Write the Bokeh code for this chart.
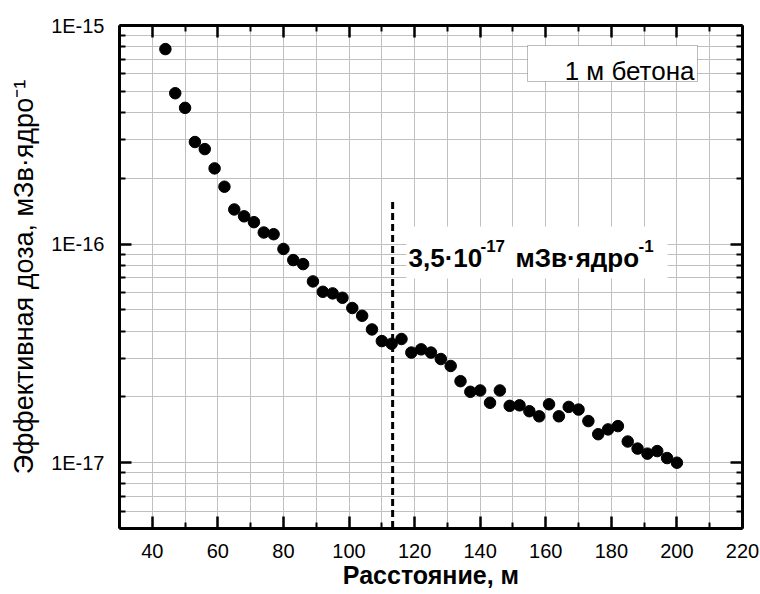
from bokeh.plotting import figure
from bokeh.models import (Range1d, FixedTicker, LinearAxis, LogAxis, Label,
                          BoxAnnotation)
from bokeh.embed import file_html
from bokeh.resources import INLINE

# Effective dose per nucleus behind 1 m of concrete vs. distance
distance = [44, 47, 50, 53, 56, 59, 62, 65, 68, 71, 74, 77, 80, 83, 86, 89,
            92, 95, 98, 101, 104, 107, 110, 113, 116, 119, 122, 125, 128, 131,
            134, 137, 140, 143, 146, 149, 152, 155, 158, 161, 164, 167, 170,
            173, 176, 179, 182, 185, 188, 191, 194, 197, 200]
dose = [7.8e-16, 4.9e-16, 4.2e-16, 2.93e-16, 2.72e-16, 2.22e-16, 1.83e-16,
        1.44e-16, 1.34e-16, 1.26e-16, 1.13e-16, 1.11e-16, 9.5e-17, 8.45e-17,
        8.1e-17, 6.75e-17, 6.05e-17, 5.95e-17, 5.68e-17, 5.1e-17, 4.7e-17,
        4.07e-17, 3.6e-17, 3.5e-17, 3.68e-17, 3.19e-17, 3.3e-17, 3.19e-17,
        2.98e-17, 2.77e-17, 2.36e-17, 2.11e-17, 2.14e-17, 1.88e-17, 2.14e-17,
        1.82e-17, 1.83e-17, 1.72e-17, 1.63e-17, 1.85e-17, 1.63e-17, 1.8e-17,
        1.75e-17, 1.55e-17, 1.35e-17, 1.42e-17, 1.47e-17, 1.25e-17, 1.16e-17,
        1.1e-17, 1.13e-17, 1.05e-17, 1.0e-17]

# marked distance and the dose read there
marker_x = [113.3, 113.3]
marker_y = [1.56e-16, 5e-18]
marker_dose_text = "3,5·10"
marker_dose_exp = "-17"

x_ticks = [40, 60, 80, 100, 120, 140, 160, 180, 200, 220]
x_tick_labels = ["40", "60", "80", "100", "120", "140", "160", "180", "200", "220"]
x_minor = [30, 50, 70, 90, 110, 130, 150, 170, 190, 210]
y_ticks = [1e-17, 1e-16, 1e-15]
y_tick_labels = ["1E-17", "1E-16", "1E-15"]
y_minor = [m * 10.0 ** e for e in (-18, -17, -16) for m in range(2, 10)]

x_title = "Расстояние, м"
y_title = "Эффективная доза, мЗв·ядро⁻¹"
legend_text = "1 м бетона"

FONT = "Liberation Sans"
W, H = 760, 594
FL, FR, FT, FB = 119, 742, 25, 528   # frame edges in canvas pixels

p = figure(width=W, height=H, output_backend="svg", toolbar_location=None,
           y_axis_type="log", x_range=Range1d(30, 220),
           y_range=Range1d(5e-18, 1e-15),
           min_border_left=FL, min_border_right=W - FR,
           min_border_top=FT, min_border_bottom=H - FB)
p.outline_line_color = None
p.background_fill_color = "white"
p.border_fill_color = "white"

xt = FixedTicker(ticks=x_ticks, minor_ticks=x_minor)
yt = FixedTicker(ticks=y_ticks, minor_ticks=y_minor)


def style_axis(ax, ticks, labels):
    ax.ticker = ticks
    ax.axis_line_width = 3
    ax.axis_line_color = "black"
    ax.major_tick_in = 12
    ax.major_tick_out = 0
    ax.minor_tick_in = 6
    ax.minor_tick_out = 0
    ax.major_tick_line_width = 2.5
    ax.minor_tick_line_width = 2
    ax.major_tick_line_color = "black"
    ax.minor_tick_line_color = "black"
    ax.major_label_text_font = FONT
    ax.major_label_text_font_size = "20px"
    ax.major_label_text_color = "black"
    ax.major_label_standoff = 15
    ax.axis_label_text_font = FONT
    ax.axis_label_text_font_size = "25px"
    ax.axis_label_text_color = "black"
    ax.axis_label_text_font_style = "normal"
    if labels is None:
        # mirrored frame side: ticks only
        ax.major_label_overrides = {t: "" for t in ticks.ticks}
        ax.major_label_standoff = 0
    else:
        ax.major_label_overrides = dict(zip(ticks.ticks, labels))


xa, ya = p.xaxis[0], p.yaxis[0]
style_axis(xa, xt, x_tick_labels)
style_axis(ya, yt, y_tick_labels)
xa.axis_label = x_title
xa.axis_label_text_font_style = "bold"
xa.axis_label_standoff = 0
ya.axis_label = y_title
ya.axis_label_text_font_size = "27px"
ya.axis_label_standoff = 9

top_ax = LinearAxis()
style_axis(top_ax, xt, None)
p.add_layout(top_ax, "above")
right_ax = LogAxis()
style_axis(right_ax, yt, None)
p.add_layout(right_ax, "right")

for g in (p.xgrid[0], p.ygrid[0]):
    g.grid_line_color = "#c0c0c0"
    g.grid_line_width = 1
    g.minor_grid_line_color = "#c0c0c0"
    g.minor_grid_line_width = 1
p.xgrid.ticker = xt
p.ygrid.ticker = yt

p.line(marker_x, marker_y, line_color="black", line_width=3,
       line_dash="7 4")
p.scatter(distance, dose, size=11.5, color="black")


def put(text, cx, cy, size, bold=False, align="left"):
    lab = Label(x=cx - FL, y=FB - cy, x_units="screen", y_units="screen",
                text=text, text_font=FONT, text_font_size=f"{size}px",
                text_font_style="bold" if bold else "normal",
                text_color="black", text_align=align,
                text_baseline="alphabetic")
    p.add_layout(lab)


def box(left, right, top, bottom, **style):
    p.add_layout(BoxAnnotation(left=left - FL, right=right - FL,
                               top=FB - top, bottom=FB - bottom,
                               left_units="screen", right_units="screen",
                               top_units="screen", bottom_units="screen",
                               fill_color="white", fill_alpha=1, **style))


# value annotation next to the marked distance
box(406, 667, 226, 278, line_color=None)
put(marker_dose_text, 408, 257, 26, bold=True)
put(marker_dose_exp, 480, 245, 17, bold=True)
put("мЗв·ядро", 515, 257, 26, bold=True)
put("-1", 638, 245, 17, bold=True)

# legend box
box(527, 697, 45, 81, line_color="#222222", line_width=1)
put(legend_text, 694, 70, 26, align="right")

html = file_html(p, INLINE)
open("out.html", "w").write(html)
